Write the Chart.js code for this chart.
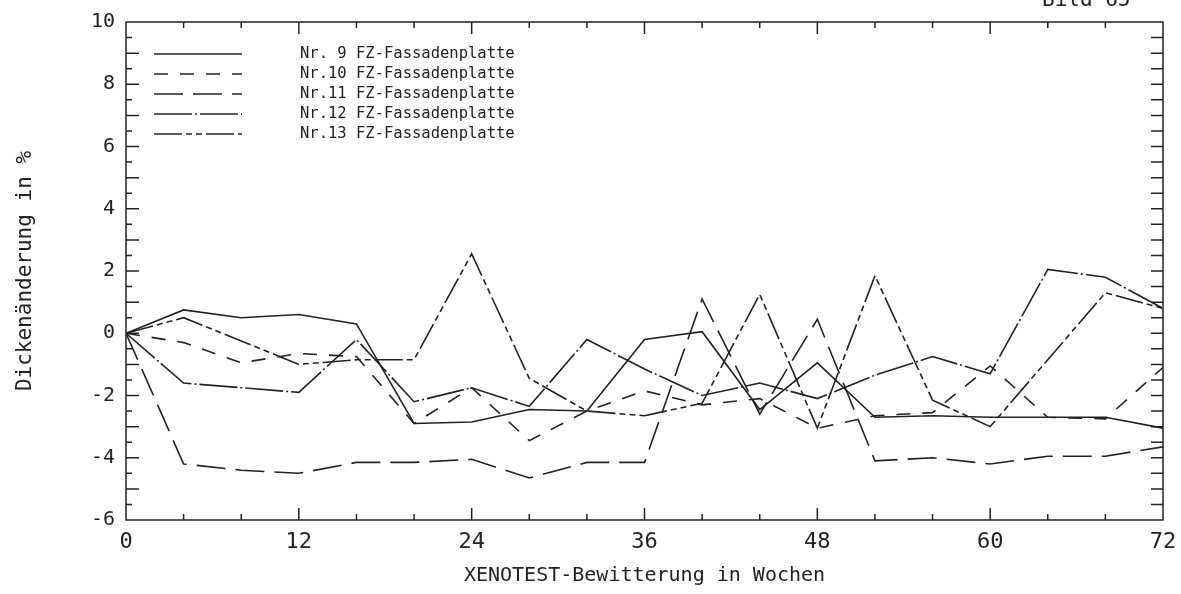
<!DOCTYPE html>
<html>
<head>
<meta charset="utf-8">
<script src="https://cdn.jsdelivr.net/npm/chart.js@4"></script>
<style>
  body { margin: 0; background: #fff; }
  #wrap { position: relative; width: 1181px; height: 594px; overflow: hidden; }
  #bild { position: absolute; left: 1042px; top: -11px; font: 21px "DejaVu Sans Mono"; color: #222; line-height: 1; }
</style>
</head>
<body>
<div id="wrap">
  <canvas id="chart" width="1181" height="594"></canvas>
  <div id="bild">Bild 65</div>
</div>
<script>
const wochen = [0, 4, 8, 12, 16, 20, 24, 28, 32, 36, 40, 44, 48, 52, 56, 60, 64, 68, 72];

const nr9  = [0, 0.75, 0.5, 0.6, 0.3, -2.9, -2.85, -2.45, -2.5, -0.2, 0.05, -2.45, -0.95, -2.7, -2.65, -2.7, -2.7, -2.7, -3.05];
const nr10 = [0, -0.3, -0.95, -0.65, -0.75, -2.9, -1.75, -3.45, -2.5, -1.85, -2.3, -2.1, -3.05, -2.65, -2.55, -1.05, -2.7, -2.75, -1.1];
const nr11 = [0, -4.2, -4.4, -4.5, -4.15, -4.15, -4.05, -4.65, -4.15, -4.15, 1.1, -2.6, 0.45, -4.1, -4.0, -4.2, -3.95, -3.95, -3.65];
const nr12 = [0, -1.6, -1.75, -1.9, -0.2, -2.2, -1.75, -2.35, -0.2, -1.15, -2.0, -1.6, -2.1, -1.35, -0.75, -1.3, 2.05, 1.8, 0.8];
const nr13 = [0, 0.5, -0.25, -1.0, -0.85, -0.85, 2.55, -1.45, -2.5, -2.65, -2.25, 1.25, -3.05, 1.85, -2.15, -3.0, -0.85, 1.3, 0.8];

const namen = ["Nr. 9 FZ-Fassadenplatte", "Nr.10 FZ-Fassadenplatte", "Nr.11 FZ-Fassadenplatte",
               "Nr.12 FZ-Fassadenplatte", "Nr.13 FZ-Fassadenplatte"];
const reihen = [nr9, nr10, nr11, nr12, nr13];
const striche = [[], [14, 12], [29, 10], [38, 3, 2, 3], [28, 4, 6, 4, 6, 4]];

const ink = "#222";
const mono = "'DejaVu Sans Mono', monospace";

// frame, inward ticks and the legend block like the plotter drawing
const rahmen = {
  id: "rahmen",
  afterDraw(chart) {
    const ctx = chart.ctx;
    const a = chart.chartArea;
    const xs = chart.scales.x, ys = chart.scales.y;
    ctx.save();
    ctx.strokeStyle = ink;
    ctx.lineWidth = 1.5;
    ctx.setLineDash([]);
    ctx.strokeRect(a.left, a.top, a.right - a.left, a.bottom - a.top);
    ctx.beginPath();
    for (let w = 4; w < 72; w += 4) {
      const px = xs.getPixelForValue(w);
      const len = w % 12 === 0 ? 12 : 6;
      ctx.moveTo(px, a.bottom); ctx.lineTo(px, a.bottom - len);
      ctx.moveTo(px, a.top); ctx.lineTo(px, a.top + len);
    }
    for (let v = -5.5; v < 10; v += 0.5) {
      const py = ys.getPixelForValue(v);
      const len = Number.isInteger(v) ? 13 : 6;
      ctx.moveTo(a.left, py); ctx.lineTo(a.left + len, py);
      ctx.moveTo(a.right, py); ctx.lineTo(a.right - 12, py);
    }
    ctx.stroke();

    ctx.font = "15.5px " + mono;
    ctx.fillStyle = ink;
    ctx.textBaseline = "middle";
    chart.data.datasets.forEach((ds, i) => {
      const y = a.top + 32 + i * 20;
      ctx.beginPath();
      ctx.lineWidth = 1.5;
      ctx.setLineDash(ds.borderDash || []);
      ctx.moveTo(a.left + 28, y);
      ctx.lineTo(a.left + 116, y);
      ctx.stroke();
      ctx.fillText(ds.label, a.left + 174, y);
    });
    ctx.restore();
  }
};

new Chart(document.getElementById("chart").getContext("2d"), {
  type: "line",
  data: {
    datasets: reihen.map((r, i) => ({
      label: namen[i],
      data: wochen.map((w, j) => ({ x: w, y: r[j] })),
      borderColor: ink,
      borderWidth: 1.6,
      borderDash: striche[i],
      pointRadius: 0,
      tension: 0,
      fill: false
    }))
  },
  options: {
    responsive: false,
    animation: false,
    layout: { padding: { top: 22, right: 18, left: 0, bottom: 0 } },
    plugins: { legend: { display: false }, tooltip: { enabled: false } },
    scales: {
      x: {
        type: "linear",
        min: 0, max: 72,
        afterFit: s => { s.height = 74; },
        grid: { display: false },
        border: { display: false },
        ticks: { stepSize: 12, padding: 1, color: ink, font: { family: mono, size: 22 } },
        title: { display: true, text: "XENOTEST-Bewitterung in Wochen", color: ink,
                 font: { family: mono, size: 20 }, padding: { bottom: 6 } }
      },
      y: {
        min: -6, max: 10,
        afterFit: s => { s.width = 126; },
        grid: { display: false },
        border: { display: false },
        ticks: { stepSize: 2, padding: 3, color: ink, font: { family: mono, size: 20 } },
        title: { display: true, text: "Dickenänderung in %", color: ink,
                 font: { family: mono, size: 21 }, padding: { top: 13 } }
      }
    }
  },
  plugins: [rahmen]
});
</script>
</body>
</html>
